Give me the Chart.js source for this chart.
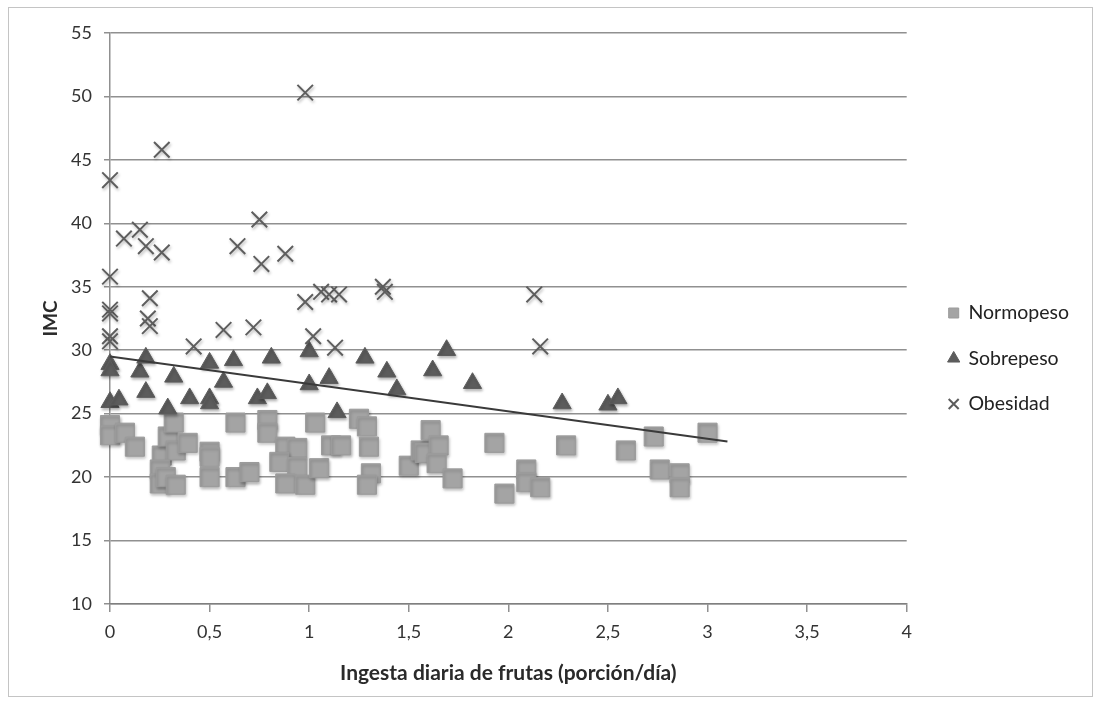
<!DOCTYPE html>
<html>
<head>
<meta charset="utf-8">
<script src="https://cdn.jsdelivr.net/npm/chart.js@4.4.1/dist/chart.umd.min.js"></script>
<style>
  html, body { margin: 0; padding: 0; background: #fff; }
  #frame {
    position: absolute; left: 8px; top: 7px;
    width: 1085px; height: 690px;
    box-sizing: border-box; border: 1px solid #c4c4c4;
  }
  #chart { display: block; }
</style>
</head>
<body>
<div id="frame"><canvas id="chart" width="1083" height="688"></canvas></div>
<script>
// Normopeso
const normX = [0, 0, 0.075, 0.125, 0.26, 0.29, 0.32, 0.33, 0.39, 0.25, 0.25, 0.28, 0.33, 0.5, 0.5, 0.5,
  0.63, 0.7, 0.63, 0.79, 0.79, 0.88, 0.94, 0.85, 0.94, 0.88, 0.98, 1.03, 1.05, 1.11, 1.16, 1.25, 1.29,
  1.3, 1.31, 1.29, 1.5, 1.56, 1.61, 1.58, 1.65, 1.64, 1.72, 1.93, 1.98, 2.09, 2.09, 2.16, 2.29, 2.59,
  2.73, 2.76, 2.86, 2.86, 3.0];
const normY = [24.1, 23.3, 23.5, 22.4, 21.7, 23.2, 24.3, 22.1, 22.7, 20.6, 19.5, 20.0, 19.4, 22.0, 21.6, 20.0,
  20.0, 20.4, 24.3, 24.5, 23.5, 22.4, 22.3, 21.2, 20.8, 19.5, 19.4, 24.3, 20.7, 22.5, 22.5, 24.6, 24.0,
  22.4, 20.3, 19.4, 20.9, 22.1, 23.7, 21.9, 22.5, 21.1, 19.9, 22.7, 18.7, 20.6, 19.6, 19.2, 22.5, 22.1,
  23.2, 20.6, 20.3, 19.2, 23.5];

// Sobrepeso
const sobreX = [0, 0, 0, 0.045, 0.15, 0.18, 0.18, 0.32, 0.29, 0.4, 0.5, 0.5, 0.5, 0.57, 0.62, 0.74, 0.79,
  0.81, 1.0, 1.0, 1.1, 1.14, 1.28, 1.39, 1.44, 1.62, 1.69, 1.82, 2.27, 2.5, 2.55];
const sobreY = [28.9, 28.4, 25.9, 26.1, 28.3, 29.4, 26.7, 27.9, 25.4, 26.2, 29.0, 26.2, 25.8, 27.5, 29.2, 26.2, 26.6,
  29.4, 29.9, 27.3, 27.8, 25.1, 29.4, 28.3, 26.9, 28.4, 30.0, 27.4, 25.8, 25.7, 26.2];

// Obesidad
const obesX = [0, 0, 0, 0, 0, 0, 0.07, 0.15, 0.18, 0.26, 0.26, 0.2, 0.19, 0.2, 0.42, 0.57, 0.64, 0.75,
  0.76, 0.88, 0.72, 0.98, 0.98, 1.06, 1.1, 1.15, 1.02, 1.13, 1.37, 1.38, 2.13, 2.16];
const obesY = [43.4, 35.8, 33.2, 32.9, 31.1, 30.7, 38.8, 39.5, 38.2, 37.7, 45.8, 34.1, 32.5, 31.9, 30.3, 31.6, 38.2, 40.3,
  36.8, 37.6, 31.8, 50.3, 33.8, 34.6, 34.4, 34.4, 31.1, 30.2, 35.0, 34.6, 34.4, 30.3];

// linear trend line
const trendX = [0, 3.1];
const trendY = [29.5, 22.8];

const xTicks = [0, 0.5, 1, 1.5, 2, 2.5, 3, 3.5, 4];
const yTicks = [10, 15, 20, 25, 30, 35, 40, 45, 50, 55];

const pts = (xs, ys) => xs.map((x, i) => ({ x, y: ys[i] }));

const grid = "rgba(125, 125, 125, 0.85)";
Chart.defaults.font.family = "Lato, 'Open Sans', sans-serif";
Chart.defaults.color = "#333";

// soft drop shadow under the markers, like the original
const markerShadow = {
  id: "markerShadow",
  beforeDatasetDraw(chart, args) {
    if (args.meta.type !== "scatter") return;
    const ctx = chart.ctx;
    ctx.save();
    ctx.shadowColor = "rgba(0, 0, 0, 0.28)";
    ctx.shadowBlur = 3;
    ctx.shadowOffsetX = 1;
    ctx.shadowOffsetY = 2;
  },
  afterDatasetDraw(chart, args) {
    if (args.meta.type !== "scatter") return;
    chart.ctx.restore();
  },
};

// nudge legend a little away from the plot
const legendNudge = {
  id: "legendNudge",
  afterLayout(chart) {
    const lg = chart.legend;
    lg.left += 16;
    lg.right += 16;
    lg.top -= 6;
    lg.bottom -= 6;
  },
};

new Chart(document.getElementById("chart"), {
  type: "scatter",
  data: {
    datasets: [
      {
        label: "Normopeso",
        data: pts(normX, normY),
        pointStyle: "rect",
        pointRadius: 13.5,
        pointHoverRadius: 13.5,
        backgroundColor: "#a4a4a4",
        borderColor: "#9b9b9b",
        borderWidth: 1,
        clip: false,
        order: 3,
      },
      {
        label: "Sobrepeso",
        data: pts(sobreX, sobreY),
        pointStyle: "triangle",
        pointRadius: 10.5,
        pointHoverRadius: 10.5,
        backgroundColor: "#5c5c5c",
        borderColor: "#5c5c5c",
        borderWidth: 1,
        clip: false,
        order: 2,
      },
      {
        label: "Obesidad",
        data: pts(obesX, obesY),
        pointStyle: "crossRot",
        pointRadius: 11,
        pointHoverRadius: 11,
        backgroundColor: "#5e5e5e",
        borderColor: "#5e5e5e",
        borderWidth: 2,
        clip: false,
        order: 1,
      },
      {
        type: "line",
        label: "trend",
        data: pts(trendX, trendY),
        borderColor: "#3a3a3a",
        borderWidth: 2,
        pointRadius: 0,
        fill: false,
        order: 0,
      },
    ],
  },
  options: {
    responsive: false,
    animation: false,
    layout: { padding: { top: 25, right: 29, bottom: 0, left: 0 } },
    plugins: {
      tooltip: { enabled: false },
      legend: {
        position: "right",
        labels: {
          usePointStyle: true,
          boxWidth: 10,
          boxHeight: 10,
          padding: 26,
          color: "#222",
          font: { size: 19.5 },
          filter: (item) => item.text !== "trend",
          sort: (a, b) => a.datasetIndex - b.datasetIndex,
        },
      },
    },
    scales: {
      x: {
        type: "linear",
        min: 0,
        max: 4,
        afterBuildTicks: (s) => { s.ticks = xTicks.map((v) => ({ value: v })); },
        afterFit: (s) => { s.height = 92; },
        ticks: {
          padding: 9,
          font: { size: 18 },
          callback: (v) => String(v).replace(".", ","),
        },
        grid: { drawOnChartArea: false, drawTicks: true, tickLength: 8, color: grid, lineWidth: 1.5 },
        border: { display: true, color: grid, width: 1.5 },
        title: {
          display: true,
          text: "Ingesta diaria de frutas (porción/día)",
          font: { size: 21, weight: "bold" },
          color: "#2a2a2a",
          padding: { top: 0, bottom: 10 },
        },
      },
      y: {
        min: 10,
        max: 55,
        afterBuildTicks: (s) => { s.ticks = yTicks.map((v) => ({ value: v })); },
        afterFit: (s) => { s.width = 101; },
        ticks: { padding: 12, font: { size: 18 } },
        grid: { color: grid, lineWidth: 1.5, tickLength: 6 },
        border: { display: true, color: grid, width: 1.5 },
        title: {
          display: true,
          text: "IMC",
          font: { size: 19, weight: "bold" },
          color: "#2a2a2a",
          padding: { top: 30, bottom: 0 },
        },
      },
    },
  },
  plugins: [markerShadow, legendNudge],
});
</script>
</body>
</html>
